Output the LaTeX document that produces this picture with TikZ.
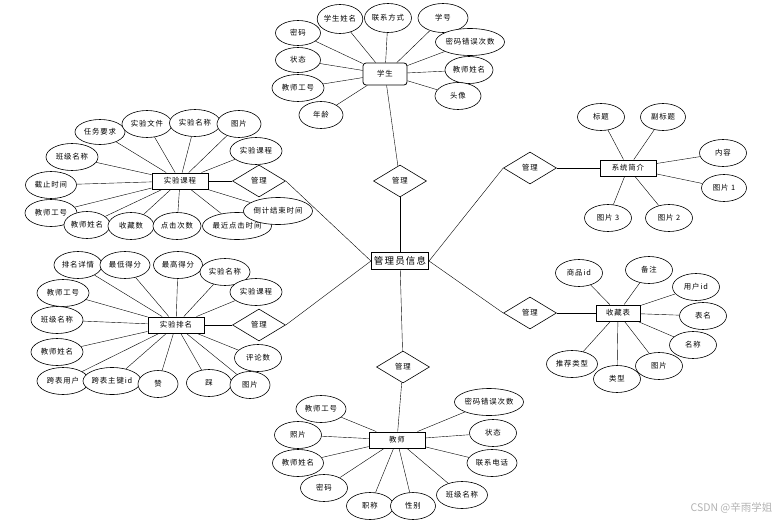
\documentclass[tikz,border=0pt]{standalone}
\usepackage{fontspec}
\setmainfont{Noto Sans CJK SC}
\newfontfamily\erfont[LetterSpace=12]{Noto Sans CJK SC}
\usetikzlibrary{shapes.geometric,backgrounds}
\begin{document}
\begin{tikzpicture}[x=1pt,y=-1pt,line width=.6pt,font=\erfont\fontsize{7.4}{8}\selectfont,
  attr/.style={ellipse,draw,fill=white,inner sep=0pt,minimum width=47pt,minimum height=27pt},
  ent/.style={rectangle,draw,fill=white,line width=.9pt,inner sep=0pt,minimum width=56pt,minimum height=16pt},
  rel/.style={diamond,draw,fill=white,inner sep=0pt,minimum width=53pt,minimum height=32pt}]
  \useasboundingbox (0,0) rectangle (781,527);
  \node[ent,font=\erfont\fontsize{9.5}{10}\selectfont,line width=1.1pt,minimum width=57pt,minimum height=17pt] (adm) at (400,261) {管理员信息};
  \node[rel] (m1) at (400,181) {管理};
  \node[rel] (m2) at (259,181) {管理};
  \node[rel] (m3) at (259,325) {管理};
  \node[rel] (m4) at (530,168) {管理};
  \node[rel] (m5) at (530,313) {管理};
  \node[rel] (m6) at (403,367) {管理};
  \node[ent,line width=.8pt,rounded corners=3pt,minimum width=44pt,minimum height=22pt] (stu) at (385,74) {学生};
  \node[attr,minimum width=44pt,minimum height=29pt] (s1) at (340,19) {学生姓名};
  \node[attr,minimum height=29pt] (s2) at (388,18) {联系方式};
  \node[attr,minimum width=50pt,minimum height=29pt] (s3) at (443,18) {学号};
  \node[attr,minimum width=45pt,minimum height=25pt] (s4) at (298,33) {密码};
  \node[attr,minimum width=45pt,minimum height=25pt] (s5) at (298,60) {状态};
  \node[attr,minimum width=52pt] (s6) at (298,88) {教师工号};
  \node[attr,minimum width=44pt] (s7) at (321,115) {年龄};
  \node[attr,minimum width=67pt] (s8) at (470,42) {密码错误次数};
  \node[attr,minimum width=48pt] (s9) at (469,70) {教师姓名};
  \node[attr,minimum width=46pt] (s10) at (458,96) {头像};
  \node[ent] (ke) at (180,181) {实验课程};
  \node[attr,minimum width=50pt,minimum height=25pt] (k1) at (100,132) {任务要求};
  \node[attr,minimum width=50pt] (k2) at (147,124) {实验文件};
  \node[attr,minimum width=51pt] (k3) at (195,123) {实验名称};
  \node[attr,minimum width=44pt] (k4) at (239,124) {图片};
  \node[attr,minimum width=52pt] (k5) at (256,151) {实验课程};
  \node[attr,minimum width=52pt] (k6) at (72,157) {班级名称};
  \node[attr,minimum width=51pt] (k7) at (51,185) {截止时间};
  \node[attr,minimum width=52pt] (k8) at (51,213) {教师工号};
  \node[attr,minimum width=46pt] (k9) at (87,225) {教师姓名};
  \node[attr,minimum width=46pt] (k10) at (131,226) {收藏数};
  \node[attr,minimum width=48pt] (k11) at (177,226) {点击次数};
  \node[attr,minimum width=68pt] (k12) at (237,226) {最近点击时间};
  \node[attr,minimum width=68pt] (k13) at (278,211) {倒计结束时间};
  \node[ent] (pm) at (176,325) {实验排名};
  \node[attr,minimum width=48pt] (p1) at (78,265) {排名详情};
  \node[attr,minimum width=50pt] (p2) at (125,265) {最低得分};
  \node[attr,minimum width=49pt] (p3) at (178,265) {最高得分};
  \node[attr,minimum width=50pt] (p4) at (225,272) {实验名称};
  \node[attr,minimum width=52pt] (p5) at (256,292) {实验课程};
  \node[attr,minimum width=52pt] (p6) at (63,293) {教师工号};
  \node[attr,minimum width=52pt] (p7) at (57,320) {班级名称};
  \node[attr,minimum width=52pt] (p8) at (57,352) {教师姓名};
  \node[attr,minimum width=47pt] (p9) at (258,358) {评论数};
  \node[attr,minimum width=52pt] (p10) at (63,381) {跨表用户};
  \node[attr,minimum width=58pt] (p11) at (112,381) {跨表主键id};
  \node[attr,minimum width=40pt] (p12) at (158,384) {赞};
  \node[attr,minimum width=45pt] (p13) at (209,383) {踩};
  \node[attr,minimum width=40pt] (p14) at (250,385) {图片};
  \node[ent] (jj) at (628,168) {系统简介};
  \node[attr] (j1) at (601,117) {标题};
  \node[attr,minimum width=45pt] (j2) at (663,117) {副标题};
  \node[attr] (j3) at (723,153) {内容};
  \node[attr,minimum width=45pt] (j4) at (724,188) {图片 1};
  \node[attr] (j5) at (608,218) {图片 3};
  \node[attr] (j6) at (669,218) {图片 2};
  \node[ent,minimum width=44pt] (sc) at (618,313) {收藏表};
  \node[attr] (c1) at (579,273) {商品id};
  \node[attr] (c2) at (649,270) {备注};
  \node[attr] (c3) at (696,287) {用户id};
  \node[attr] (c4) at (703,316) {表名};
  \node[attr] (c5) at (693,345) {名称};
  \node[attr] (c6) at (659,366) {图片};
  \node[attr] (c7) at (617,379) {类型};
  \node[attr,minimum width=51pt] (c8) at (572,364) {推荐类型};
  \node[ent] (js) at (397,440) {教师};
  \node[attr,minimum width=50pt] (t1) at (321,409) {教师工号};
  \node[attr] (t2) at (298,435) {照片};
  \node[attr,minimum width=51pt] (t3) at (298,463) {教师姓名};
  \node[attr] (t4) at (324,488) {密码};
  \node[attr] (t5) at (370,506) {职称};
  \node[attr,minimum width=45pt] (t6) at (413,506) {性别};
  \node[attr,minimum width=51pt] (t7) at (462,495) {班级名称};
  \node[attr,minimum width=50pt] (t8) at (492,463) {联系电话};
  \node[attr] (t9) at (493,433) {状态};
  \node[attr,minimum width=68pt] (t10) at (489,402) {密码错误次数};
  \node[text=gray!60,font=\fontsize{10.5}{11}\selectfont,anchor=east] (wm) at (776,508) {CSDN @辛雨学姐};
  \begin{scope}[on background layer]
    \foreach \a in {s1,s2,s3,s4,s5,s6,s7,s8,s9,s10} \draw (stu) -- (\a);
    \foreach \a in {k1,k2,k3,k4,k5,k6,k7,k8,k9,k10,k11,k12,k13} \draw (ke) -- (\a);
    \foreach \a in {p1,p2,p3,p4,p5,p6,p7,p8,p9,p10,p11,p12,p13,p14} \draw (pm) -- (\a);
    \foreach \a in {j1,j2,j3,j4,j5,j6} \draw (jj) -- (\a);
    \foreach \a in {c1,c2,c3,c4,c5,c6,c7,c8} \draw (sc) -- (\a);
    \foreach \a in {t1,t2,t3,t4,t5,t6,t7,t8,t9,t10} \draw (js) -- (\a);
    \draw (stu) -- (m1);
    \draw (ke) -- (m2);
    \draw (pm) -- (m3);
    \draw (m4) -- (jj);
    \draw (m5) -- (sc);
    \draw (m6) -- (js);
    \draw (adm) -- (m1);
    \draw (adm) -- (m6);
    \draw (adm.west) -- (m2.east);
    \draw (adm.west) -- (m3.east);
    \draw (adm.east) -- (m4.west);
    \draw (adm.east) -- (m5.west);
  \end{scope}
\end{tikzpicture}
\end{document}
